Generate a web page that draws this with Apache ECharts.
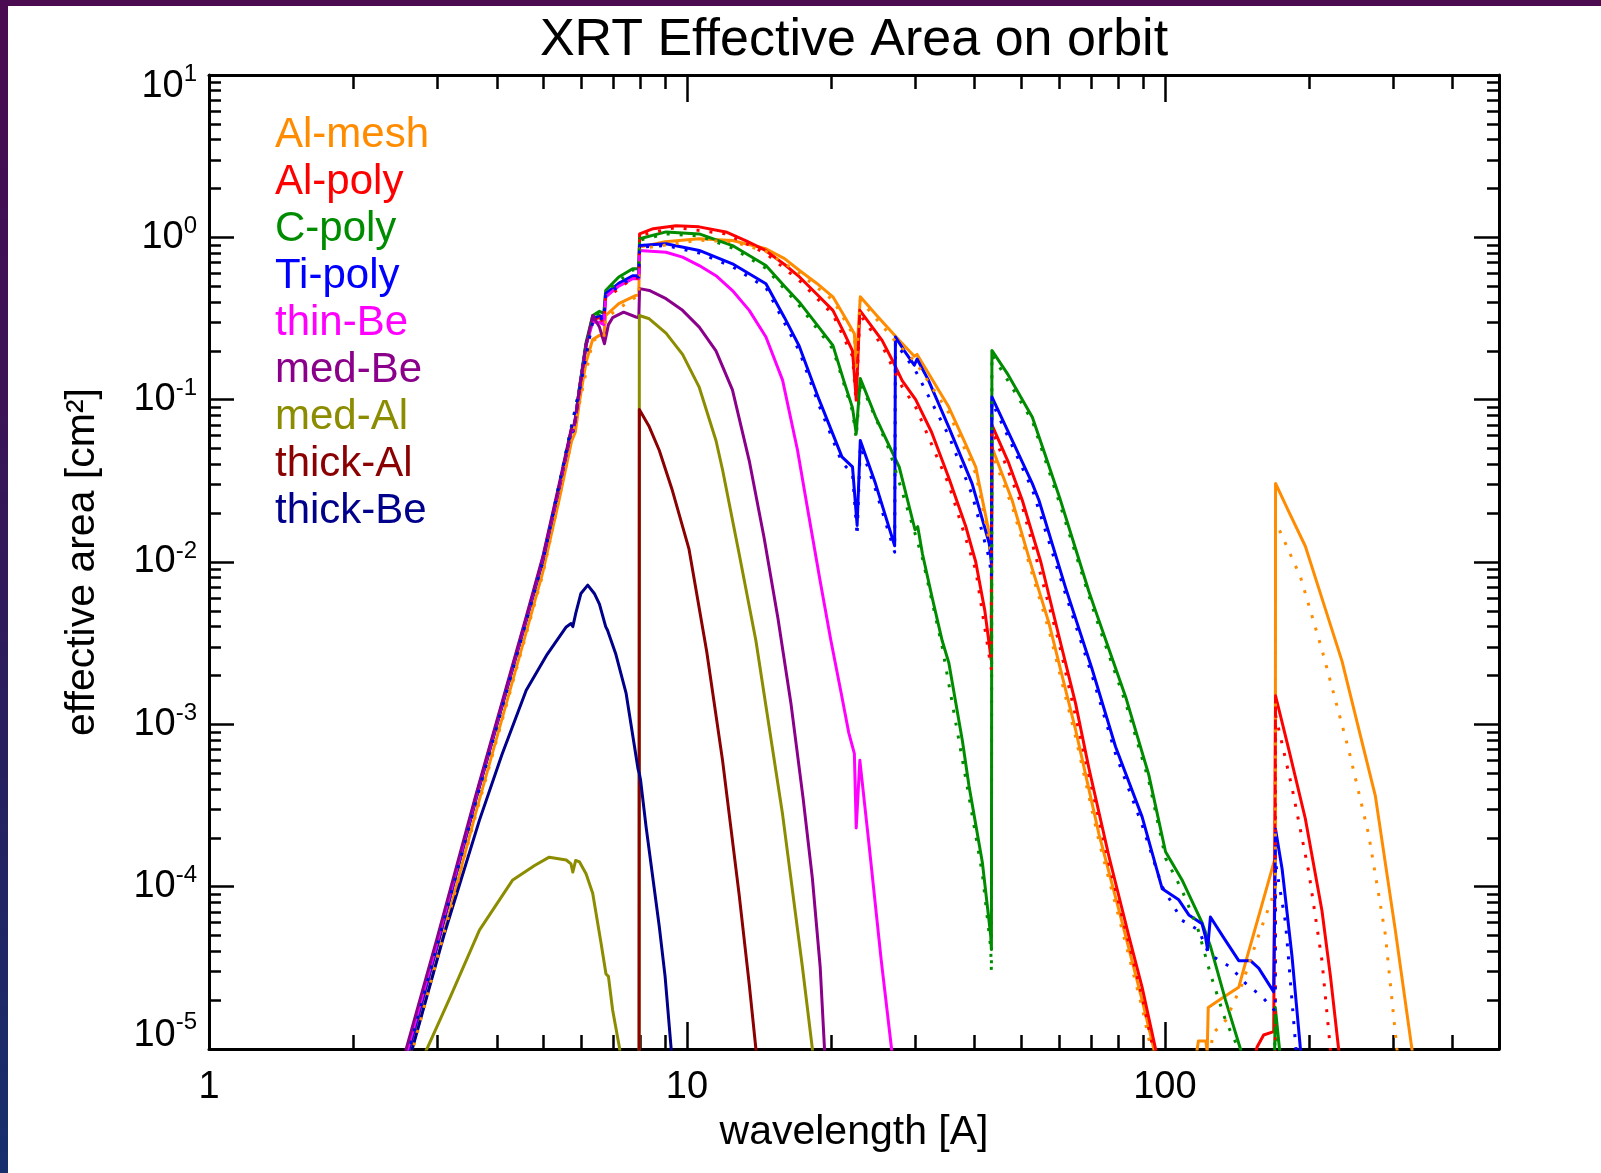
<!DOCTYPE html>
<html><head><meta charset="utf-8">
<script src="https://cdn.jsdelivr.net/npm/echarts@6/dist/echarts.min.js"></script>
<style>
html,body{margin:0;padding:0;width:1601px;height:1173px;overflow:hidden;}
body{background:linear-gradient(180deg,#4a0b51 0%,#3a1457 35%,#27205f 65%,#172f6d 100%);}
#paper{position:absolute;left:8px;top:6px;right:0;bottom:0;background:#fff;}
#chart{position:absolute;left:0;top:0;width:1601px;height:1173px;}
</style></head>
<body><div id="paper"></div><div id="chart"></div>
<script>
const FONT = '"Liberation Sans", Arial, Helvetica, sans-serif';

const xMajorTicks = [1, 10, 100];
const xMinorTicks = [2,3,4,5,6,7,8,9,20,30,40,50,60,70,80,90,200,300,400];
const yMajorTicks = [1e-5,1e-4,1e-3,1e-2,1e-1,1,10];
const yMinorTicks = [2e-5,3e-5,4e-5,5e-5,6e-5,7e-5,8e-5,9e-5,
  2e-4,3e-4,4e-4,5e-4,6e-4,7e-4,8e-4,9e-4,
  2e-3,3e-3,4e-3,5e-3,6e-3,7e-3,8e-3,9e-3,
  0.02,0.03,0.04,0.05,0.06,0.07,0.08,0.09,
  0.2,0.3,0.4,0.5,0.6,0.7,0.8,0.9,
  2,3,4,5,6,7,8,9];

const filterNames = ['Al-mesh','Al-poly','C-poly','Ti-poly','thin-Be','med-Be','med-Al','thick-Al','thick-Be'];
const filterColors = ['#ff8c00','#ff0000','#008c00','#0000ff','#ff00ff','#8b008b','#8c8c00','#8b0000','#00008b'];

// [wavelength (A), effective area (cm^2)]
const alMesh = [
 [2.63,9.0e-6],[3.0,3.6e-5],[3.62,2.9e-4],[4.61,3.7e-3],[4.99,8.6e-3],[5.4,0.024],[5.74,0.056],[5.78,0.055],[5.84,0.063],[5.96,0.098],[6.15,0.17],[6.35,0.235],[6.56,0.249],[6.7,0.245],[6.76,0.33],[7.2,0.39],[7.82,0.439],[7.93,0.44],
 [7.96,0.87],[9.0,0.94],[10.6,0.98],[12.45,0.957],[14.63,0.85],[16,0.74],[17.2,0.625],[18.7,0.52],[20.2,0.43],[21.5,0.315],[22.4,0.255],[22.6,0.166],[23.05,0.43],
 [25,0.328],[27.8,0.232],[29.9,0.185],[30.3,0.19],[32.5,0.135],[35.3,0.090],[38,0.056],[40.2,0.0384],[42.9,0.015],[43.35,0.0112],
 [43.45,0.051],[47.9,0.024],[52,0.0105],[57.2,4.2e-3],[65,9.3e-4],[72.8,2.1e-4],[81.4,6.0e-5],[89.6,2.0e-5],[94.8,1.0e-5],[96,8e-6],
 [115.5,8e-6],[117.5,1.12e-5],[121.8,1.12e-5],[122.6,9.6e-6],[123.2,1.8e-5],[133,2.1e-5],[142.7,2.4e-5],[147,3.3e-5],[153,5.0e-5],[159.7,7.8e-5],[168.9,1.4e-4],[170.2,1.5e-4],
 [170.4,0.0305],[181.6,0.0204],[196.7,0.0125],[215,5.5e-3],[234.7,2.45e-3],[255,9.1e-4],[275.5,3.64e-4],[303.4,5.4e-5],[328.7,1.0e-5],[335,7e-6]
];
const alPoly = [
 [2.6,9.2e-6],[3.0,4.3e-5],[3.62,3.5e-4],[4.61,4.4e-3],[4.99,0.0102],[5.4,0.0286],[5.74,0.066],[5.78,0.064],[5.84,0.075],[5.96,0.117],[6.15,0.219],[6.35,0.31],[6.56,0.32],[6.7,0.305],[6.76,0.43],[7.2,0.52],[7.7,0.57],[7.93,0.57],
 [7.96,1.05],[8.5,1.13],[9.48,1.18],[10.6,1.16],[12.06,1.08],[13.3,0.95],[14.6,0.83],[16,0.68],[17.2,0.57],[18.7,0.446],[20.2,0.355],[21.3,0.26],[22.2,0.20],[22.6,0.10],[23.0,0.355],
 [24.2,0.29],[25.6,0.232],[26.9,0.175],[28.2,0.131],[30.1,0.10],[32.5,0.063],[35.3,0.033],[38.3,0.0166],[40.2,0.01],[42,5.0e-3],[43.3,2.5e-3],
 [43.45,0.07],[47,0.0414],[50.3,0.024],[55,0.01],[60,3.5e-3],[65,1.35e-3],[69.3,5.4e-4],[76.3,1.55e-4],[84,5.0e-5],[89.6,2.4e-5],[95.6,1.0e-5],[97,8e-6],
 [153,8e-6],[155.9,1.03e-5],[160.9,1.22e-5],[168.9,1.28e-5],[170.2,1.3e-5],
 [170.4,1.5e-3],[181.6,7.0e-4],[196.7,2.62e-4],[213.1,7.1e-5],[222,2.8e-5],[230.9,1.0e-5],[233,8e-6]
];
const cPoly = [
 [2.6,9.2e-6],[3.0,4.3e-5],[3.62,3.5e-4],[4.61,4.4e-3],[4.99,0.0102],[5.4,0.0286],[5.74,0.066],[5.78,0.064],[5.84,0.075],[5.96,0.12],[6.15,0.225],[6.35,0.33],[6.56,0.35],[6.7,0.34],[6.76,0.47],[7.2,0.57],[7.7,0.64],[7.93,0.64],
 [7.96,0.98],[9.04,1.08],[10.61,1.05],[12.45,0.89],[14.63,0.67],[16,0.50],[17.17,0.40],[18.7,0.29],[20.2,0.216],[21.3,0.13],[22.2,0.089],[22.6,0.062],[23.05,0.135],
 [24.8,0.0787],[26.5,0.052],[27.8,0.0385],[30.0,0.0158],[30.4,0.0165],[31.1,0.0112],[32.6,6.0e-3],[34.2,3.27e-3],[35.3,2.4e-3],[37.7,7.9e-4],[38.9,4.2e-4],[41.5,1.41e-4],[43.2,5.0e-5],[43.35,4.1e-5],
 [43.45,0.201],[47,0.142],[52.8,0.078],[56,0.047],[60.2,0.025],[65,0.0121],[69.3,6.6e-3],[71.6,5.0e-3],[76.5,2.86e-3],[82.8,1.47e-3],[92.5,4.9e-4],[100.3,1.64e-4],[108.6,1.1e-4],[119.6,6.0e-5],[124.5,4.3e-5],[133.9,2.0e-5],[143.9,1.0e-5],[146,8e-6],
 [169.5,8e-6],[170.2,1.8e-5],[175,8e-6]
];
const tiPoly = [
 [2.6,9.2e-6],[3.0,4.3e-5],[3.62,3.5e-4],[4.61,4.4e-3],[4.99,0.0102],[5.4,0.0286],[5.74,0.066],[5.78,0.064],[5.84,0.075],[5.96,0.117],[6.15,0.219],[6.35,0.315],[6.56,0.33],[6.7,0.32],[6.76,0.45],[7.2,0.52],[7.7,0.58],[7.93,0.58],
 [7.96,0.89],[9.04,0.914],[10.61,0.83],[12.45,0.687],[14.63,0.518],[16,0.32],[17.17,0.214],[18.9,0.1],[21.1,0.0444],[22.2,0.0385],[22.7,0.0168],[23.05,0.0561],
 [24.8,0.0304],[27.2,0.0126],[27.3,0.243],[28.5,0.2],[29.9,0.163],[30.3,0.178],[32,0.132],[35.3,0.0678],[39.5,0.0304],[42.9,0.013],[43.35,0.0098],
 [43.45,0.104],[48,0.0555],[52.8,0.0304],[54.5,0.024],[62,6.9e-3],[70.4,2.19e-3],[78.8,7.3e-4],[89.6,2.69e-4],[98.7,9.7e-5],[106.9,8.3e-5],[112.2,6.7e-5],[119.6,5.9e-5],[121.6,4.9e-5],[122.8,4.1e-5],[124.5,6.5e-5],[133,4.8e-5],[142.7,3.5e-5],[151,3.5e-5],[157.1,3.15e-5],[168.9,2.25e-5],[170.2,2.2e-5],
 [170.4,2.26e-4],[175.9,1.28e-4],[184.5,3.7e-5],[192.1,1.0e-5],[194,8e-6]
];
const thinBe = [
 [2.58,9.0e-6],[3.0,4.5e-5],[3.62,3.6e-4],[4.61,4.5e-3],[4.99,0.0105],[5.4,0.029],[5.74,0.067],[5.78,0.065],[5.84,0.076],[5.96,0.117],[6.15,0.215],[6.35,0.30],[6.56,0.30],[6.7,0.29],[6.76,0.43],[7.2,0.50],[7.7,0.556],[7.93,0.556],
 [7.96,0.83],[9.04,0.81],[9.79,0.755],[10.61,0.67],[11.5,0.58],[12.45,0.47],[13.5,0.355],[14.63,0.243],[15.85,0.132],[17.03,0.049],[18.0,0.019],[19.0,7.6e-3],[20.0,3.3e-3],[21.0,1.58e-3],[21.8,8.9e-4],[22.4,6.6e-4],[22.6,2.3e-4],[23.0,6.0e-4],[24.0,1.9e-4],[25.5,3.5e-5],[26.8,1.0e-5],[27.2,7e-6]
];
const medBe = [
 [2.56,9.0e-6],[3.0,4.8e-5],[3.62,3.7e-4],[4.61,4.6e-3],[4.99,0.0107],[5.4,0.030],[5.74,0.068],[5.78,0.066],[5.84,0.077],[5.96,0.118],[6.15,0.215],[6.35,0.33],[6.56,0.28],[6.72,0.221],[6.85,0.29],[6.99,0.32],[7.37,0.346],[7.82,0.323],[7.93,0.32],
 [7.96,0.483],[8.34,0.471],[9.04,0.419],[9.79,0.355],[10.61,0.28],[11.5,0.20],[12.45,0.115],[13.5,0.042],[14.5,0.0141],[15.5,4.5e-3],[16.5,1.35e-3],[17.5,3.5e-4],[18.3,1.12e-4],[19.0,3.2e-5],[19.4,1.0e-5],[19.6,7e-6]
];
const medAl = [
 [2.78,8.5e-6],[2.87,1.03e-5],[3.2,2.1e-5],[3.68,5.4e-5],[4.32,1.10e-4],[4.8,1.35e-4],[5.15,1.52e-4],[5.59,1.46e-4],[5.72,1.38e-4],[5.77,1.23e-4],[5.85,1.45e-4],[5.96,1.42e-4],[6.15,1.2e-4],[6.35,9.1e-5],[6.61,4.5e-5],[6.77,2.9e-5],[6.85,2.8e-5],[6.99,1.74e-5],[7.22,1.03e-5],[7.3,8e-6],
 [7.94,5e-6],[7.95,0.33],[8.34,0.315],[9.04,0.257],[9.79,0.19],[10.6,0.12],[11.5,0.056],[11.87,0.037],[12.86,0.0112],[13.94,3.27e-3],[15.85,2.79e-4],[17.44,3.2e-5],[18.3,1.0e-5],[18.6,6e-6]
];
const thickAl = [
 [7.94,5e-6],[7.95,0.087],[8.34,0.068],[8.75,0.0488],[9.3,0.0282],[10.1,0.012],[11.0,2.8e-3],[11.87,6.0e-4],[12.86,8.9e-5],[13.5,2.5e-5],[13.94,1.0e-5],[14.3,5e-6]
];
const thickBe = [
 [2.62,8.5e-6],[2.67,1.03e-5],[3.1,5.0e-5],[3.68,2.57e-4],[4.1,6.5e-4],[4.61,1.62e-3],[5.1,2.7e-3],[5.59,3.98e-3],[5.72,4.18e-3],[5.77,4.0e-3],[5.85,4.8e-3],[6.0,6.4e-3],[6.2,7.2e-3],[6.4,6.4e-3],[6.56,5.5e-3],[6.76,4.0e-3],[6.82,3.8e-3],[6.88,3.85e-3],[7.1,2.7e-3],[7.46,1.55e-3],[7.9,5.3e-4],[7.95,4.97e-4],[8.0,4.5e-4],[8.21,2.35e-4],[8.75,5.7e-5],[9.0,2.8e-5],[9.26,1.03e-5],[9.35,7e-6]
];

// dotted companions
const alMeshDot = [
 [2.64,8.8e-6],[3.62,2.8e-4],[4.99,8.3e-3],[5.96,0.095],[6.35,0.23],[6.56,0.244],[6.7,0.24],[6.76,0.32],[7.82,0.43],[7.93,0.43],
 [7.96,0.85],[10.6,0.96],[12.45,0.94],[14.63,0.82],[17.2,0.60],[20.2,0.41],[22.4,0.245],[22.6,0.16],[23.05,0.41],
 [27.8,0.215],[30.1,0.17],[35.3,0.083],[40.2,0.035],[42.9,0.0135],[43.35,0.0102],
 [43.45,0.047],[47.9,0.022],[57.2,3.8e-3],[65,8.4e-4],[72.8,1.9e-4],[81.4,5.4e-5],[89.6,1.8e-5],[93.5,1.0e-5],[95,8e-6],
 [123.5,8e-6],[126,1.25e-5],[134,1.5e-5],[145,2.5e-5],[157,5.0e-5],[168.9,9.0e-5],[170.2,9.5e-5],
 [170.4,0.0178],[192.1,8.1e-3],[213.1,2.88e-3],[242.3,7.0e-4],[266.8,2.1e-4],[289.1,5.1e-5],[305.8,1.0e-5],[310,8e-6]
];
const alPolyDot = [
 [2.6,9.0e-6],[3.62,3.4e-4],[4.99,0.0100],[5.96,0.115],[6.35,0.305],[6.56,0.315],[6.7,0.30],[6.76,0.42],[7.7,0.56],[7.93,0.56],
 [7.96,1.03],[9.48,1.15],[12.06,1.05],[14.6,0.80],[17.2,0.54],[20.2,0.335],[22.2,0.185],[22.6,0.095],[23.0,0.335],
 [25.6,0.215],[28.2,0.12],[30.1,0.09],[35.3,0.030],[40.2,8.9e-3],[43.3,2.2e-3],
 [43.45,0.065],[50.3,0.022],[60,3.2e-3],[69.3,4.9e-4],[76.3,1.4e-4],[84,4.5e-5],[89.6,2.1e-5],[94.5,1.0e-5],[96,8e-6],
 [170.2,8e-6],[170.4,1.14e-3],[184.5,4.06e-4],[200,1.23e-4],[213.1,3.5e-5],[221.9,1.0e-5],[224,8e-6]
];
const cPolyDot = [
 [2.6,9.0e-6],[3.62,3.4e-4],[4.99,0.0100],[5.96,0.118],[6.35,0.32],[6.56,0.34],[6.7,0.33],[6.76,0.46],[7.7,0.63],[7.93,0.63],
 [7.96,0.96],[9.04,1.05],[10.61,1.02],[12.45,0.86],[14.63,0.645],[17.17,0.38],[20.2,0.205],[22.2,0.085],[22.6,0.058],[23.05,0.128],
 [26.5,0.049],[30.0,0.015],[31.1,0.0105],[34.2,3.0e-3],[38.9,3.6e-4],[41.5,1.2e-4],[43.2,4.2e-5],[43.35,3.0e-5],
 [43.45,0.19],[52.8,0.074],[60.2,0.023],[71.6,4.6e-3],[82.8,1.35e-3],[92.5,4.5e-4],[100.3,1.5e-4],[108.6,9.5e-5],[117,5.6e-5],[124.5,2.9e-5],[133.9,1.5e-5],[142.7,1.0e-5],[145,8e-6],
 [169.5,8e-6],[170.3,1.6e-5],[174,8e-6]
];
const tiPolyDot = [
 [2.6,9.0e-6],[3.62,3.4e-4],[4.99,0.0100],[5.96,0.115],[6.35,0.305],[6.56,0.32],[6.7,0.31],[6.76,0.44],[7.7,0.57],[7.93,0.57],
 [7.96,0.87],[9.04,0.89],[10.61,0.80],[12.45,0.66],[14.63,0.49],[17.17,0.20],[18.9,0.092],[21.1,0.041],[22.2,0.035],[22.7,0.0145],[23.05,0.052],
 [24.8,0.028],[27.2,0.0115],[27.3,0.225],[30.1,0.15],[35.3,0.06],[39.5,0.026],[42.9,0.0105],[43.35,8.1e-3],
 [43.45,0.097],[52.8,0.028],[62,6.3e-3],[70.4,2.0e-3],[78.8,6.6e-4],[89.6,2.4e-4],[98.7,1.0e-4],[108.6,6.2e-5],[117.7,5.4e-5],[123.5,3.85e-5],[137.1,3.2e-5],[147.4,2.54e-5],[159.7,2.1e-5],[168.9,1.75e-5],[170.2,1.7e-5],
 [170.4,1.4e-4],[178.8,6.0e-5],[188,1.0e-5],[190,8e-6]
];

const solidData = [alMesh, alPoly, cPoly, tiPoly, thinBe, medBe, medAl, thickAl, thickBe];
const dottedData = [alMeshDot, alPolyDot, cPolyDot, tiPolyDot];

function lineSeries(name, data, color, dotted) {
  return {
    type: 'line', name: name, data: data,
    xAxisIndex: 0, yAxisIndex: 0,
    symbol: 'none', showSymbol: false, animation: false, silent: true, clip: true,
    z: dotted ? 3 : 2,
    lineStyle: { color: color, width: 3, type: dotted ? [3, 10] : 'solid', cap: 'butt', join: 'round' },
    itemStyle: { color: color },
    emphasis: { disabled: true }
  };
}
const series = [];
solidData.forEach((d, i) => series.push(lineSeries(filterNames[i], d, filterColors[i], false)));
dottedData.forEach((d, i) => series.push(lineSeries(filterNames[i] + ' (dotted)', d, filterColors[i], true)));

const common = { type: 'log', logBase: 10, splitLine: { show: false }, minorTick: { show: false }, minorSplitLine: { show: false }, silent: true };
const tickStyle = { color: '#000', width: 2.5 };
const lineStyleAxis = { color: '#000', width: 3 };

function xAx(pos, major, labels) {
  return Object.assign({}, common, {
    min: 1, max: 500, position: pos,
    axisLine: { show: major, onZero: false, lineStyle: lineStyleAxis },
    axisTick: { show: true, inside: true, length: major ? 27 : 14, customValues: major ? xMajorTicks : xMinorTicks, lineStyle: tickStyle },
    axisLabel: labels ? { show: true, customValues: xMajorTicks, formatter: v => String(Math.round(v)), fontSize: 38, color: '#000', fontFamily: FONT, margin: 20 } : { show: false }
  });
}
function yAx(pos, major, labels) {
  return Object.assign({}, common, {
    min: 1e-5, max: 10, position: pos,
    axisLine: { show: major, onZero: false, lineStyle: lineStyleAxis },
    axisTick: { show: true, inside: true, length: major ? 25 : 12, customValues: major ? yMajorTicks : yMinorTicks, lineStyle: tickStyle },
    axisLabel: labels ? {
      show: true, customValues: yMajorTicks, margin: 12,
      formatter: function (v) {
        const e = Math.round(Math.log10(v));
        if (e === 1) return '{bt|10}{st|' + e + '}';
        if (e === -5) return '{bb|10}{sb|' + e + '}';
        return '{b|10}{s|' + e + '}';
      },
      rich: {
        b: { fontSize: 38, lineHeight: 46, fontFamily: FONT, color: '#000' },
        s: { fontSize: 24, lineHeight: 21, verticalAlign: 'top', fontFamily: FONT, color: '#000' },
        bt: { fontSize: 38, lineHeight: 62, verticalAlign: 'bottom', fontFamily: FONT, color: '#000' },
        st: { fontSize: 24, lineHeight: 21, verticalAlign: 'top', padding: [18, 0, 0, 0], fontFamily: FONT, color: '#000' },
        bb: { fontSize: 38, lineHeight: 77, verticalAlign: 'top', padding: [6, 0, 0, 0], fontFamily: FONT, color: '#000' },
        sb: { fontSize: 24, lineHeight: 21, verticalAlign: 'top', fontFamily: FONT, color: '#000' }
      }
    } : { show: false }
  });
}

const xAxes = [xAx('bottom', true, true), xAx('top', true, false), xAx('bottom', false, false), xAx('top', false, false)];
Object.assign(xAxes[0], { name: 'wavelength [A]', nameLocation: 'middle', nameGap: 61, nameTextStyle: { fontSize: 41, color: '#000', fontFamily: FONT } });
const yAxes = [yAx('left', true, true), yAx('right', true, false), yAx('left', false, false), yAx('right', false, false)];
Object.assign(yAxes[0], { name: 'effective area [cm²]', nameLocation: 'middle', nameGap: 106, nameRotate: 90, nameTextStyle: { fontSize: 41, color: '#000', fontFamily: FONT } });

const chart = echarts.init(document.getElementById('chart'), null, { renderer: 'canvas', width: 1601, height: 1173 });
chart.setOption({
  animation: false,
  backgroundColor: 'transparent',
  title: {
    text: 'XRT Effective Area on orbit', left: 854, top: 15, padding: 0, textAlign: 'center',
    textStyle: { fontSize: 52, fontWeight: 'normal', color: '#000', fontFamily: FONT }
  },
  legend: {
    orient: 'vertical', left: 269, top: 114, padding: 0, itemGap: 5, itemWidth: 1, itemHeight: 42,
    icon: 'rect', itemStyle: { opacity: 0, color: 'transparent', borderWidth: 0 }, lineStyle: { opacity: 0 },
    selectedMode: false,
    textStyle: { fontSize: 42, lineHeight: 42, fontFamily: FONT },
    data: filterNames.map((n, i) => ({ name: n, textStyle: { color: filterColors[i] } }))
  },
  grid: { left: 209, right: 102, top: 75, bottom: 124 },
  xAxis: xAxes,
  yAxis: yAxes,
  series: series
});
</script>
</body></html>
